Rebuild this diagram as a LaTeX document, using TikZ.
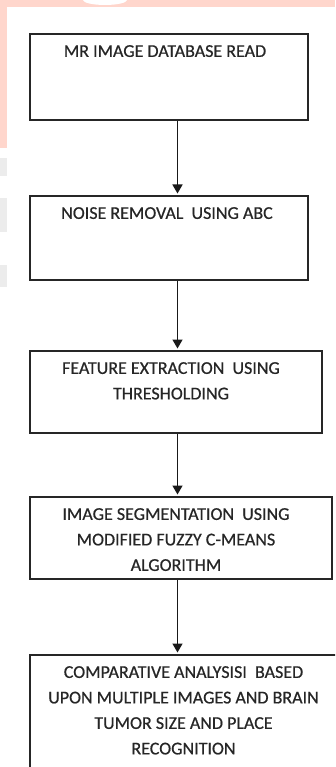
\documentclass[tikz,border=0pt]{standalone}
\usepackage{fontspec}
\setmainfont{Carlito}
\newfontfamily\flowfont[FakeBold=0.6]{Carlito}
\usetikzlibrary{arrows.meta}
\definecolor{wmpink}{RGB}{255,214,204}
\definecolor{wmgrey}{RGB}{236,236,236}
\tikzset{
  stepbox/.style={draw=black!85, line width=1.9pt, fill=white, inner sep=0pt, anchor=north west},
  boxtext/.style={anchor=north, inner sep=0pt, align=center, text=black!85,
    font=\flowfont\fontsize{18}{25.5}\selectfont},
  flow/.style={draw=black!90, line width=1.6pt, -{Triangle[width=10pt,length=9pt]}, shorten >=1.5pt}
}
\begin{document}
\begin{tikzpicture}[x=1pt,y=-1pt]
\useasboundingbox (0,0) rectangle (335,767);
\clip (0,0) rectangle (335,767);
\fill[white] (0,0) rectangle (335,767);
% watermark strips
\fill[wmpink] (0,0) rectangle (335,7);
\fill[wmpink] (0,0) rectangle (7,148);
\fill[white] (105,0) ellipse (22 and 5);
\fill[wmgrey] (0,158) rectangle (7,176);
\fill[wmgrey] (0,198) rectangle (7,232);
\fill[wmgrey] (0,265) rectangle (7,287);
% boxes
\node[stepbox, minimum width=278pt, minimum height=86pt] (b1) at (29,33) {};
\node[stepbox, minimum width=278pt, minimum height=84pt] (b2) at (29,195) {};
\node[stepbox, minimum width=292pt, minimum height=82pt] (b3) at (29,350) {};
\node[stepbox, minimum width=302pt, minimum height=82pt] (b4) at (29,496) {};
\node[stepbox, minimum width=312pt, minimum height=125pt] (b5) at (29,654) {};
% texts
\node[boxtext] (t1) at (165,45) {MR IMAGE DATABASE READ};
\node[boxtext] (t2) at (167,207) {NOISE REMOVAL~ USING ABC};
\node[boxtext] (t3) at (171,362) {FEATURE EXTRACTION~ USING\\THRESHOLDING};
\node[boxtext] (t4) at (176,508) {IMAGE SEGMENTATION~ USING\\MODIFIED FUZZY C-MEANS\\ALGORITHM};
\node[boxtext] (t5) at (183.5,666) {COMPARATIVE ANALYSISI~ BASED\\UPON MULTIPLE IMAGES AND BRAIN\\TUMOR SIZE AND PLACE\\RECOGNITION};
% connectors
\coordinate (ax) at (177.5,0);
\draw[flow] (b1.south -| ax) -- (b2.north -| ax);
\draw[flow] (b2.south -| ax) -- (b3.north -| ax);
\draw[flow] (b3.south -| ax) -- (b4.north -| ax);
\draw[flow] (b4.south -| ax) -- (b5.north -| ax);
\end{tikzpicture}
\end{document}
